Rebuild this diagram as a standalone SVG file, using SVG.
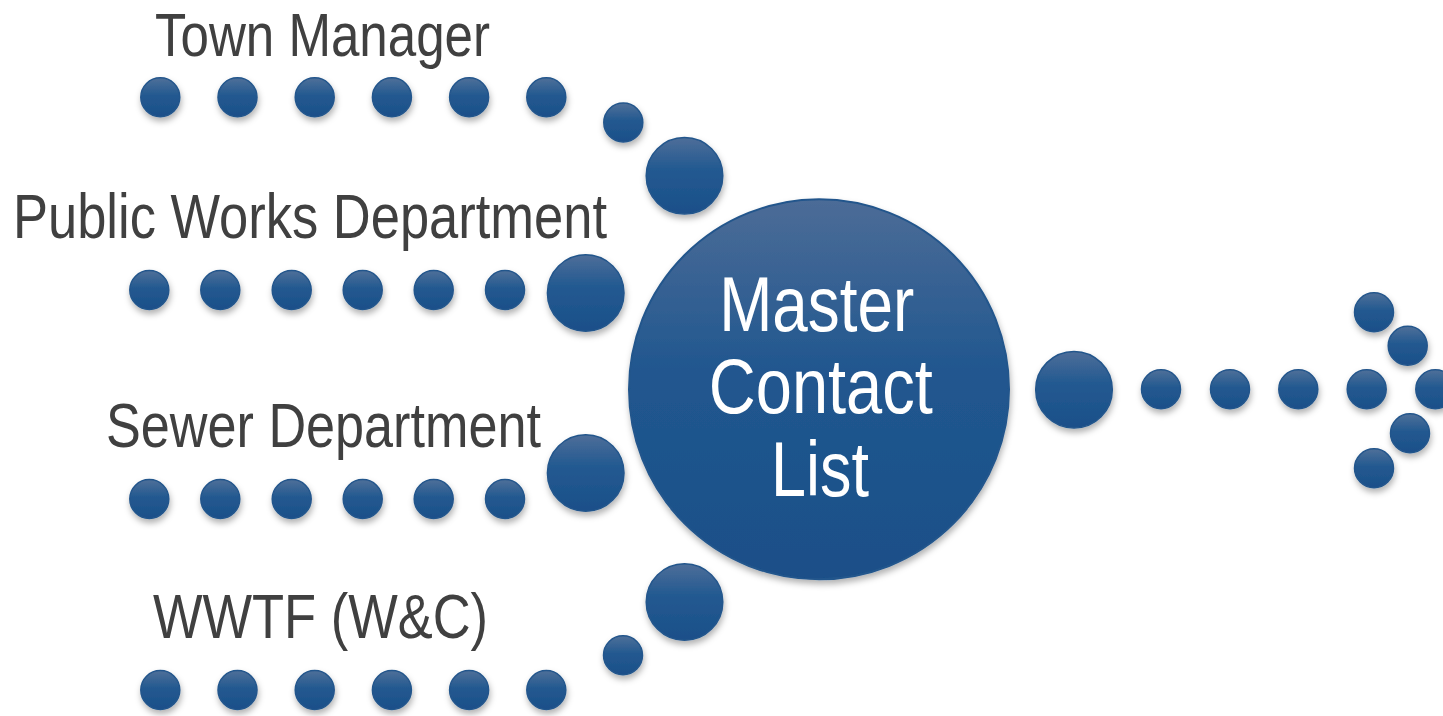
<svg xmlns="http://www.w3.org/2000/svg" width="1443" height="716" viewBox="0 0 1443 716">
<style>
.lbl{font-family:"Liberation Sans",Arial,sans-serif;font-size:63px;fill:#404040}
.main{font-family:"Liberation Sans",Arial,sans-serif;font-size:77px;fill:#ffffff;text-anchor:middle}
.dot{fill:url(#gDot);stroke:#24568c;stroke-width:1.5;filter:url(#sh)}
.big{fill:url(#gBig);stroke:#24568c;stroke-width:1.5;filter:url(#sh)}
</style>
<defs>
<linearGradient id="gDot" x1="0" y1="0" x2="0" y2="1">
<stop offset="0" stop-color="#4f7099"/>
<stop offset="0.45" stop-color="#235990"/>
<stop offset="1" stop-color="#1b4f89"/>
</linearGradient>
<linearGradient id="gBig" x1="0" y1="0" x2="0" y2="1">
<stop offset="0" stop-color="#4e6e99"/>
<stop offset="0.4" stop-color="#245a91"/>
<stop offset="1" stop-color="#1a4f89"/>
</linearGradient>
<linearGradient id="gMain" x1="0" y1="0" x2="0" y2="1">
<stop offset="0" stop-color="#4c6c97"/>
<stop offset="0.45" stop-color="#21578f"/>
<stop offset="1" stop-color="#1a4f88"/>
</linearGradient>
<filter id="sh" x="-30%" y="-30%" width="160%" height="170%">
<feDropShadow dx="1" dy="4" stdDeviation="3" flood-color="#000" flood-opacity="0.3"/>
</filter>
</defs>

<g id="connectors">
<g id="trail-town-manager">
<circle class="dot" cx="160.3" cy="97.3" r="19.5"/>
<circle class="dot" cx="237.5" cy="97.3" r="19.5"/>
<circle class="dot" cx="314.7" cy="97.3" r="19.5"/>
<circle class="dot" cx="391.9" cy="97.3" r="19.5"/>
<circle class="dot" cx="469.1" cy="97.3" r="19.5"/>
<circle class="dot" cx="546.3" cy="97.3" r="19.5"/>
<circle class="dot" cx="623.3" cy="122.5" r="19.5"/>
<circle class="big" cx="684.5" cy="175.8" r="38.3"/>
</g>
<g id="trail-public-works">
<circle class="dot" cx="149.3" cy="290" r="19.5"/>
<circle class="dot" cx="220.3" cy="290" r="19.5"/>
<circle class="dot" cx="291.7" cy="290" r="19.5"/>
<circle class="dot" cx="362.7" cy="290" r="19.5"/>
<circle class="dot" cx="433.7" cy="290" r="19.5"/>
<circle class="dot" cx="505" cy="290" r="19.5"/>
<circle class="big" cx="585.7" cy="293" r="38.3"/>
</g>
<g id="trail-sewer">
<circle class="dot" cx="149.3" cy="499" r="19.5"/>
<circle class="dot" cx="220.3" cy="499" r="19.5"/>
<circle class="dot" cx="291.7" cy="499" r="19.5"/>
<circle class="dot" cx="362.7" cy="499" r="19.5"/>
<circle class="dot" cx="433.7" cy="499" r="19.5"/>
<circle class="dot" cx="505" cy="499" r="19.5"/>
<circle class="big" cx="585.7" cy="473" r="38.3"/>
</g>
<g id="trail-wwtf">
<circle class="dot" cx="160.3" cy="690" r="19.5"/>
<circle class="dot" cx="237.5" cy="690" r="19.5"/>
<circle class="dot" cx="314.7" cy="690" r="19.5"/>
<circle class="dot" cx="391.9" cy="690" r="19.5"/>
<circle class="dot" cx="469.1" cy="690" r="19.5"/>
<circle class="dot" cx="546.3" cy="690" r="19.5"/>
<circle class="dot" cx="623" cy="655.3" r="19.5"/>
<circle class="big" cx="684.5" cy="602" r="38.3"/>
</g>
<g id="trail-output">
<circle class="big" cx="1074" cy="389.7" r="38.3"/>
<circle class="dot" cx="1161" cy="389.3" r="19.5"/>
<circle class="dot" cx="1230" cy="389.3" r="19.5"/>
<circle class="dot" cx="1298.3" cy="389.3" r="19.5"/>
<circle class="dot" cx="1374" cy="312.3" r="19.5"/>
<circle class="dot" cx="1407.7" cy="345.7" r="19.5"/>
<circle class="dot" cx="1366.7" cy="389.3" r="19.5"/>
<circle class="dot" cx="1435.3" cy="389.3" r="19.5"/>
<circle class="dot" cx="1410" cy="433.3" r="19.5"/>
<circle class="dot" cx="1374" cy="468.3" r="19.5"/>
</g>
</g>

<g id="node-town-manager">
<text class="lbl" x="155" y="56" font-size="62" textLength="335" lengthAdjust="spacingAndGlyphs" style="font-size:62px">Town Manager</text>
</g>
<g id="node-public-works">
<text class="lbl" x="13" y="238" textLength="594" lengthAdjust="spacingAndGlyphs">Public Works Department</text>
</g>
<g id="node-sewer">
<text class="lbl" x="106" y="447" textLength="435" lengthAdjust="spacingAndGlyphs">Sewer Department</text>
</g>
<g id="node-wwtf">
<text class="lbl" x="153" y="638" textLength="335" lengthAdjust="spacingAndGlyphs">WWTF (W&amp;C)</text>
</g>

<g id="node-master">
<circle cx="819" cy="389.3" r="190" fill="url(#gMain)" stroke="#24568c" stroke-width="2" filter="url(#sh)"/>
<text class="main" x="816.7" y="331" textLength="195" lengthAdjust="spacingAndGlyphs">Master</text>
<text class="main" x="820.8" y="413" textLength="224" lengthAdjust="spacingAndGlyphs">Contact</text>
<text class="main" x="820" y="496" textLength="98" lengthAdjust="spacingAndGlyphs">List</text>
</g>
</svg>
